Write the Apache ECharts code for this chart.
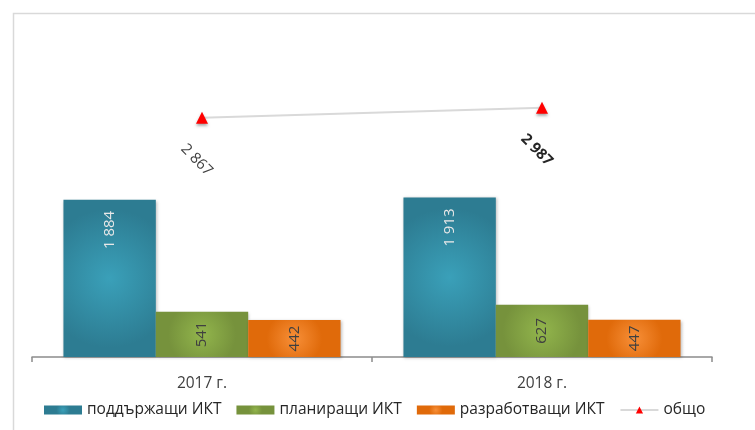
<!DOCTYPE html>
<html>
<head>
<meta charset="utf-8">
<script src="https://cdn.jsdelivr.net/npm/echarts@6/dist/echarts.min.js"></script>
<style>
  html, body { margin: 0; padding: 0; background: #fff; }
  #chart { width: 755px; height: 430px; }
</style>
</head>
<body>
<div id="chart"></div>
<script>
var years = ["2017 г.", "2018 г."];
var supporting = [1884, 1913];
var planning = [541, 627];
var developing = [442, 447];
var total = [2867, 2987];

var font = "Open Sans, sans-serif";

function radial(inner, outer) {
  return {
    type: "radial", x: 0.5, y: 0.5, r: 0.75,
    colorStops: [{ offset: 0, color: inner }, { offset: 1, color: outer }]
  };
}

function fmt(v) {
  return String(v).replace(/\B(?=(\d{3})+(?!\d))/g, " ");
}

function barSeries(name, data, inner, outer, labelColor, pos) {
  return {
    name: name,
    type: "bar",
    data: data,
    barGap: "0%",
    barCategoryGap: "18.5%",
    itemStyle: {
      color: radial(inner, outer),
      shadowColor: "rgba(0,0,0,0.25)",
      shadowBlur: 3,
      shadowOffsetX: 1,
      shadowOffsetY: 1
    },
    label: {
      show: true,
      position: pos,
      rotate: 90,
      align: pos === "insideTop" ? "right" : "center",
      verticalAlign: "middle",
      distance: 11,
      color: labelColor,
      fontFamily: font,
      fontSize: 15,
      formatter: function (p) { return fmt(p.value); }
    }
  };
}

var chart = echarts.init(document.getElementById("chart"));
chart.setOption({
  animation: false,
  backgroundColor: "#fff",
  graphic: [{
    type: "rect",
    left: 11, top: 11,
    shape: { width: 800, height: 500 },
    style: { fill: "none", stroke: "#d9d9d9", lineWidth: 1.5 },
    silent: true,
    z: -10
  }],
  grid: { left: 32, right: 43, top: 65, bottom: 73 },
  legend: {
    left: 39, top: 397,
    itemWidth: 38, itemHeight: 9, itemGap: 15,
    textStyle: { fontFamily: font, fontSize: 15.5, color: "#262626" },
    data: [
      { name: "поддържащи ИКТ", icon: "rect" },
      { name: "планиращи ИКТ", icon: "rect" },
      { name: "разработващи ИКТ", icon: "rect" },
      { name: "общо" }
    ]
  },
  xAxis: {
    type: "category",
    data: years,
    axisLine: { lineStyle: { color: "#8c8c8c", width: 1.5 } },
    axisTick: { show: true, alignWithLabel: false, length: 5, lineStyle: { color: "#8c8c8c", width: 1.5 } },
    axisLabel: { fontFamily: font, fontSize: 15.5, color: "#404040", margin: 19 }
  },
  yAxis: {
    type: "value", min: 0, max: 3500,
    show: false, splitLine: { show: false }
  },
  series: [
    barSeries("поддържащи ИКТ", supporting, "#3aa0b9", "#2d7c92", "#e8e8e8", "insideTop"),
    barSeries("планиращи ИКТ", planning, "#92b54c", "#76923c", "#404040", "inside"),
    barSeries("разработващи ИКТ", developing, "#f78f38", "#e06a0a", "#404040", "inside"),
    {
      name: "общо",
      type: "line",
      symbol: "triangle",
      symbolSize: 12,
      lineStyle: { color: "#d9d9d9", width: 2 },
      itemStyle: { color: "#ff0000", shadowColor: "rgba(0,0,0,0.35)", shadowBlur: 3, shadowOffsetY: 2 },
      label: {
        show: true,
        position: "bottom",
        distance: 31,
        rotate: -45,
        fontFamily: font,
        fontSize: 15,
        color: "#404040",
        formatter: function (p) { return fmt(p.value); }
      },
      data: [
        { value: total[0] },
        { value: total[1], label: { fontWeight: "bold", color: "#262626" } }
      ]
    }
  ]
});
</script>
</body>
</html>
